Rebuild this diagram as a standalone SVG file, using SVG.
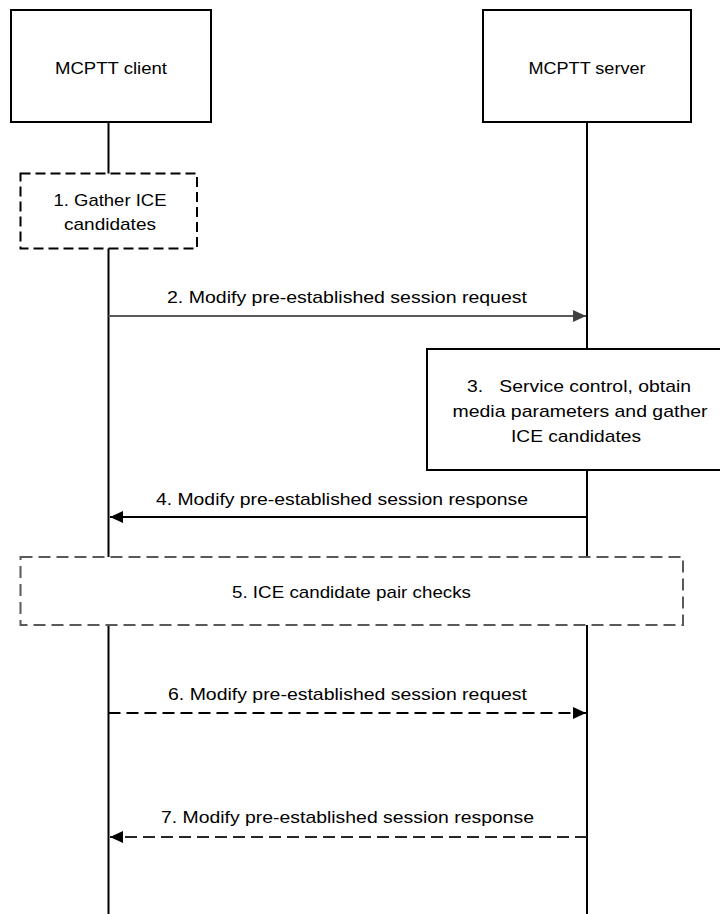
<svg xmlns="http://www.w3.org/2000/svg" width="720" height="914" viewBox="0 0 720 914">
<style>
text{font-family:"Liberation Sans",Arial,sans-serif;font-size:17px;fill:#000;text-anchor:middle}
.box{fill:#fff;stroke:#000;stroke-width:2}
.life{stroke:#000;stroke-width:2;fill:none}
.dbox{fill:#fff;stroke:#000;stroke-width:2;stroke-dasharray:10 5}
.gbox{fill:#fff;stroke:#595959;stroke-width:2;stroke-dasharray:12 6}
.msg{stroke-width:2;fill:none}
</style>
<defs>
<marker id="ahb" markerWidth="13" markerHeight="12" refX="13" refY="6" orient="auto" markerUnits="userSpaceOnUse"><path d="M0,0 L13,6 L0,12 Z" fill="#000"/></marker>
<marker id="ahg" markerWidth="13" markerHeight="12" refX="13" refY="6" orient="auto" markerUnits="userSpaceOnUse"><path d="M0,0 L13,6 L0,12 Z" fill="#404040"/></marker>
</defs>
<g id="lifelines">
<line class="life" x1="108.5" y1="122" x2="108.5" y2="914"/>
<line class="life" x1="587" y1="122" x2="587" y2="914"/>
</g>
<g id="client"><rect class="box" x="11" y="10" width="200" height="112"/><text x="111" y="74" textLength="112" lengthAdjust="spacingAndGlyphs">MCPTT client</text></g>
<g id="server"><rect class="box" x="483" y="10" width="208" height="112"/><text x="587" y="74" textLength="117" lengthAdjust="spacingAndGlyphs">MCPTT server</text></g>
<g id="step1"><rect class="dbox" x="20.5" y="173.5" width="176.5" height="75"/><text x="110" y="206" textLength="113" lengthAdjust="spacingAndGlyphs">1. Gather ICE</text><text x="110" y="230" textLength="92" lengthAdjust="spacingAndGlyphs">candidates</text></g>
<g id="step3"><rect class="box" x="427" y="349" width="294" height="121"/><text x="579" y="392" textLength="224" lengthAdjust="spacingAndGlyphs" xml:space="preserve">3.   Service control, obtain</text><text x="580" y="417" textLength="255" lengthAdjust="spacingAndGlyphs">media parameters and gather</text><text x="576" y="442" textLength="130" lengthAdjust="spacingAndGlyphs">ICE candidates</text></g>
<g id="step5"><rect class="gbox" x="20.5" y="557" width="662.5" height="68"/><text x="351.5" y="598" textLength="239" lengthAdjust="spacingAndGlyphs">5. ICE candidate pair checks</text></g>
<g id="connectors">
<line class="msg" x1="108.5" y1="316" x2="586" y2="316" stroke="#595959" marker-end="url(#ahg)"/>
<line class="msg" x1="587" y1="517" x2="110" y2="517" stroke="#000" marker-end="url(#ahb)"/>
<line class="msg" x1="108.5" y1="713" x2="586" y2="713" stroke="#000" stroke-dasharray="12 6" marker-end="url(#ahb)"/>
<line class="msg" x1="587" y1="837" x2="110" y2="837" stroke="#262626" stroke-dasharray="12 6" marker-end="url(#ahb)"/>
</g>
<g id="labels">
<text x="347" y="303" textLength="360" lengthAdjust="spacingAndGlyphs">2. Modify pre-established session request</text>
<text x="342" y="505" textLength="372" lengthAdjust="spacingAndGlyphs">4. Modify pre-established session response</text>
<text x="347.5" y="700" textLength="359" lengthAdjust="spacingAndGlyphs">6. Modify pre-established session request</text>
<text x="347.5" y="823" textLength="373" lengthAdjust="spacingAndGlyphs">7. Modify pre-established session response</text>
</g>
</svg>
